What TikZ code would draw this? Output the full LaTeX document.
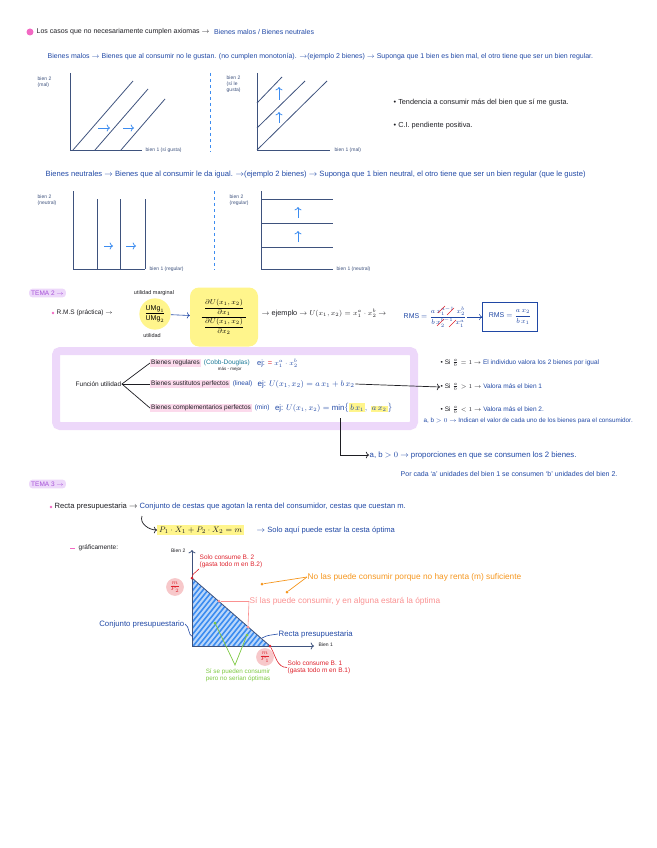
\documentclass[tikz,border=0pt]{standalone}
\usepackage{amsmath, amssymb}
\usepackage{fontspec}
\setmainfont{Liberation Sans}
\usepackage{tikz}
\usetikzlibrary{arrows.meta, calc, positioning}
\usepackage{xcolor}
\definecolor{inkdark}{RGB}{30,30,35}
\definecolor{inkblue}{RGB}{32,72,165}
\definecolor{axisblue}{RGB}{62,82,125}
\definecolor{lightblue}{RGB}{60,140,240}
\definecolor{hlyellow}{RGB}{255,245,140}
\definecolor{hlpink}{RGB}{252,218,236}
\definecolor{hlviolet}{RGB}{237,216,250}
\definecolor{temaviolet}{RGB}{165,80,215}
\definecolor{bulletpink}{RGB}{242,105,195}
\definecolor{notered}{RGB}{222,35,45}
\definecolor{noteorange}{RGB}{245,150,30}
\definecolor{notepink}{RGB}{250,145,145}
\definecolor{notegreen}{RGB}{125,200,65}
\definecolor{cobbteal}{RGB}{25,120,150}
\newcommand{\flecha}{$\rightarrow$}
\setlength{\fboxsep}{1pt}

\begin{document}
\begin{tikzpicture}[x=1pt, y=-1pt,
  note/.style={font=\fontsize{6.5}{7.5}\selectfont, inner sep=0.5pt, anchor=west, text=inkdark},
  bnote/.style={note, text=inkblue},
  axlabel/.style={font=\fontsize{5}{6}\selectfont, inner sep=0.5pt, text=axisblue, align=left},
  axisline/.style={draw=axisblue, line width=0.8pt},
  shiftarrow/.style={->, draw=lightblue, line width=0.8pt},
  divider/.style={draw=lightblue, dashed, line width=0.7pt},
  tema/.style={note, fill=hlviolet, text=temaviolet, rounded corners=3pt, inner sep=2pt},
  pinkhl/.style={note, fill=hlpink, inner sep=1pt},
  branch/.style={draw=inkdark, line width=0.7pt},
  redmark/.style={circle, fill=notered!25, text=notered, inner sep=1pt, font=\fontsize{8}{9}\selectfont},
  dot/.style={circle, inner sep=0pt, minimum size=3pt}]
\useasboundingbox (0,0) rectangle (656,848);

% Tema 1: bienes malos y neutrales
\fill[bulletpink] (30,32) circle (3.5);
\node[note, font=\fontsize{7}{8}\selectfont] (titulo) at (36,32) {Los casos que no necesariamente cumplen axiomas \flecha};
\node[bnote, font=\fontsize{7}{8}\selectfont, right=3pt of titulo] (tipos) {Bienes malos / Bienes neutrales};
\node[bnote, font=\fontsize{7}{8}\selectfont] (malos) at (47,57) {Bienes malos \flecha\ Bienes que al consumir no le gustan. (no cumplen monotonía). \flecha(ejemplo 2 bienes) \flecha\ Suponga que 1 bien es bien mal, el otro tiene que ser un bien regular.};

% bien 2 malo
\draw[axisline] (70,73) -- (70,150) -- (142,150);
\draw[axisline] (73,150) -- (133,81);
\draw[axisline] (95,150) -- (148,89);
\draw[axisline] (121,150) -- (165,99);
\draw[shiftarrow] (98,128) -- (110,128);
\draw[shiftarrow] (123,128) -- (134,128);
\node[axlabel, anchor=north west] (ybien2a) at (37,76) {bien 2\\(mal)};
\node[axlabel, anchor=west] (xbien1a) at (145,150) {bien 1 (sí gusta)};
\draw[divider] (210,73) -- (210,152);

% bien 1 malo
\draw[axisline] (257,73) -- (257,150) -- (330,150);
\draw[axisline] (257,150) -- (327,81);
\draw[axisline] (257,128) -- (305,81);
\draw[axisline] (257,103) -- (282,77);
\draw[shiftarrow] (279,123) -- (279,112);
\draw[shiftarrow] (279,100) -- (279,87);
\node[axlabel, anchor=north west] (ybien2b) at (226,75) {bien 2\\(sí le\\gusta)};
\node[axlabel, anchor=west] (xbien1b) at (334,150) {bien 1 (mal)};

\node[note, font=\fontsize{7.3}{8}\selectfont] (tendencia) at (393,103) {• Tendencia a consumir más del bien que sí me gusta.};
\node[note, font=\fontsize{7.3}{8}\selectfont] (pendiente) at (393,126) {• C.I. pendiente positiva.};

\node[bnote, font=\fontsize{7.6}{8.5}\selectfont] (neutros) at (45,175) {Bienes neutrales \flecha\ Bienes que al consumir le da igual. \flecha(ejemplo 2 bienes) \flecha\ Suponga que 1 bien neutral, el otro tiene que ser un bien regular (que le guste)};

% bien 2 neutral
\draw[axisline] (73,191) -- (73,269) -- (145,269);
\foreach \xv in {97,120,145}
  \draw[axisline] (\xv,269) -- (\xv,199);
\draw[shiftarrow] (104,246) -- (113,246);
\draw[shiftarrow] (126,246) -- (136,246);
\node[axlabel, anchor=north west] (ybien2c) at (37,194) {bien 2\\(neutral)};
\node[axlabel, anchor=west] (xbien1c) at (149,269) {bien 1 (regular)};
\draw[divider] (214,191) -- (214,270);

% bien 1 neutral
\draw[axisline] (261,191) -- (261,269) -- (333,269);
\foreach \yv in {199,223,247}
  \draw[axisline] (261,\yv) -- (333,\yv);
\draw[shiftarrow] (298,218) -- (298,207);
\draw[shiftarrow] (298,242) -- (298,231);
\node[axlabel, anchor=north west] (ybien2d) at (229,194) {bien 2\\(regular)};
\node[axlabel, anchor=west] (xbien1d) at (336,269) {bien 1 (neutral)};

% Tema 2: RMS y funciones de utilidad
\node[tema] (tema2) at (29,293) {TEMA 2 \flecha};
\fill[bulletpink] (53,313) circle (1.3);
\node[note] (rms) at (56,313) {R.M.S (práctica) \flecha};
\node[circle, fill=hlyellow, inner sep=1.5pt, font=\fontsize{7}{8}\selectfont] (umg) at (155,314) {$\dfrac{\mathrm{UMg}_1}{\mathrm{UMg}_2}$};
\node[note, anchor=south, font=\fontsize{5.5}{6.5}\selectfont] (umgtxt) at (154,296) {utilidad marginal};
\node[note, anchor=north, font=\fontsize{5.5}{6.5}\selectfont] (utiltxt) at (152,333) {utilidad};
\node[fill=hlyellow, rounded corners=9pt, minimum width=68pt, minimum height=59pt, inner sep=1pt, font=\fontsize{7.5}{9}\selectfont] (deriv) at (224,317)
  {$\dfrac{\;\dfrac{\partial U(x_1,x_2)}{\partial x_1}\;}{\;\dfrac{\partial U(x_1,x_2)}{\partial x_2}\;}$};
\draw[->, inkblue, line width=0.6pt] (umg) -- (deriv);
\node[note, font=\fontsize{7.3}{8}\selectfont] (ejemplo) at (261,313) {\flecha\ ejemplo \flecha\ $U(x_1,x_2) = x_1^{a}\cdot x_2^{b}$ \flecha};
\node[bnote, font=\fontsize{7}{8}\selectfont] (rmsej) at (403,317) {RMS $=\dfrac{a\,x_1^{a-1}\; x_2^{b}}{b\,x_2^{b-1}\; x_1^{a}}$};
\draw[notered, line width=0.6pt] (438,313) -- (445,306) (447,315) -- (454,308)
  (437,326) -- (444,319) (449,327) -- (456,320);
\node[bnote, anchor=center, draw=inkblue, line width=0.8pt, minimum width=55pt, minimum height=29pt, font=\fontsize{7}{8}\selectfont] (rmsres) at (510,317) {RMS $=\dfrac{a\,x_2}{b\,x_1}$};
\draw[->, inkblue, line width=0.6pt] (rmsej) -- (rmsres);

\draw[hlviolet, line width=8pt, rounded corners=4pt] (56,351) rectangle (414,426);
\node[note] (futil) at (75,384) {Función utilidad};
\node[pinkhl] (regul) at (150,363) {Bienes regulares};
\node[note, text=cobbteal, right=2pt of regul] (cobb) {(Cobb-Douglas)};
\node[note, anchor=north, font=\fontsize{4.5}{5}\selectfont] (masmejor) at ($(cobb.south)+(3,-0.5)$) {más - mejor};
\node[bnote, right=6pt of cobb, font=\fontsize{7.5}{8.5}\selectfont] (ejcobb) {ej: {\color{notered}=} $x_1^{a}\cdot x_2^{b}$};
\node[pinkhl] (sust) at (150,384) {Bienes sustitutos perfectos};
\node[bnote, right=2pt of sust] (lineal) {(lineal)};
\node[bnote, right=4pt of lineal, font=\fontsize{8}{9}\selectfont] (ejsust) {ej: $U(x_1,x_2) = a\,x_1 + b\,x_2$};
\node[pinkhl] (compl) at (150,408) {Bienes complementarios perfectos};
\node[bnote, right=2pt of compl] (minimo) {(min)};
\node[bnote, right=4pt of minimo, font=\fontsize{7.8}{8.5}\selectfont] (ejcompl)
  {ej: $U(x_1,x_2) = \min\bigl\{\colorbox{hlyellow}{$b\,x_1$},\ \colorbox{hlyellow}{$a\,x_2$}\bigr\}$};
\draw[branch] (futil.east) -- (regul.west);
\draw[branch] (futil.east) -- (sust.west);
\draw[branch] (futil.east) -- (compl.west);

\node[note] (si1) at (440,363) {• Si $\frac{a}{b} = 1$ \flecha\ {\color{inkblue}El individuo valora los 2 bienes por igual}};
\node[note] (si2) at (440,387) {• Si $\frac{a}{b} > 1$ \flecha\ {\color{inkblue}Valora más el bien 1}};
\node[note] (si3) at (440,410) {• Si $\frac{a}{b} < 1$ \flecha\ {\color{inkblue}Valora más el bien 2.}};
\node[bnote, font=\fontsize{6.3}{7}\selectfont] (valor) at (423,421) {a, b $>0$ \flecha\ Indican el valor de cada uno de los bienes para el consumidor.};
\draw[->, inkdark, line width=0.7pt] (ejsust.east) -- (si2.west);

\coordinate (codo) at (340,418);
\node[bnote, font=\fontsize{7.8}{8.5}\selectfont] (prop) at (369,455) {a, b $>0$ \flecha\ proporciones en que se consumen los 2 bienes.};
\draw[->, inkdark, line width=0.7pt] (codo) |- (prop.west);
\node[bnote, font=\fontsize{7}{8}\selectfont] (porcada) at (400,474) {Por cada `a' unidades del bien 1 se consumen `b' unidades del bien 2.};

% Tema 3: recta presupuestaria
\node[tema] (tema3) at (29,484) {TEMA 3 \flecha};
\fill[bulletpink] (51,507) circle (1.3);
\node[note, font=\fontsize{7.6}{8.5}\selectfont] (recta) at (54,507) {Recta presupuestaria \flecha\ {\color{inkblue}Conjunto de cestas que agotan la renta del consumidor, cestas que cuestan m.}};
\node[note, fill=hlyellow, inner sep=2pt, font=\fontsize{8.5}{9}\selectfont] (budget) at (157,530) {$P_1\cdot X_1 + P_2\cdot X_2 = m$};
\coordinate (gancho) at (142,516);
\draw[->, inkdark, line width=0.7pt] (gancho) to[out=-110, in=180] (budget.west);
\node[bnote, font=\fontsize{7.6}{8.5}\selectfont] (optima) at (256,530) {\flecha\ Solo aquí puede estar la cesta óptima};
\draw[bulletpink, line width=0.8pt] (70,548) -- (75,548);
\node[note] (grafica) at (78,548) {gráficamente:};

% grafico del conjunto presupuestario
\coordinate (O) at (192,646);
\coordinate (B2) at (192,578);
\coordinate (B1) at (270,646);
\fill[lightblue!35] (B2) -- (O) -- (B1) -- cycle;
\begin{scope}
  \clip (B2) -- (O) -- (B1) -- cycle;
  \foreach \k in {0,5,...,160}
    \draw[lightblue, line width=1.6pt] (120+\k,650) -- ++(60,-75);
\end{scope}
\draw[->, axisline] (O) -- (192,550);
\draw[->, axisline] (O) -- (314,646);
\draw[axisline] (B2) -- (B1);
\node[axlabel, text=inkdark, anchor=east] (ybien) at (186,551) {Bien 2};
\node[axlabel, text=inkdark, anchor=west] (xbien) at (318,645) {Bien 1};
\node[dot, fill=notered] (p2) at (B2) {};
\node[dot, fill=notered] (p1) at (B1) {};
\node[redmark] (mp2) at (175,587) {$\frac{m}{P_2}$};
\node[redmark] (mp1) at (265,657) {$\frac{m}{P_1}$};

\node[note, text=notered, align=left, anchor=north west, font=\fontsize{6.5}{7.5}\selectfont] (solo2) at (199,554) {Solo consume B. 2\\(gasta todo m en B.2)};
\draw[notered, line width=0.6pt] (p2) to[out=80, in=-120] (solo2.south west);
\node[note, text=notered, align=left, anchor=north west, font=\fontsize{6.5}{7.5}\selectfont] (solo1) at (287,660) {Solo consume B. 1\\(gasta todo m en B.1)};
\draw[notered, line width=0.6pt] (p1) to[out=-60, in=180] (solo1.west);

\node[dot, fill=noteorange] (fuera1) at (262,584) {};
\node[dot, fill=noteorange] (fuera2) at (287,592) {};
\node[note, text=noteorange, font=\fontsize{8.3}{9}\selectfont] (nopuede) at (307,577) {No las puede consumir porque no hay renta (m) suficiente};
\draw[noteorange, line width=0.7pt] (nopuede.west) -- (fuera1);
\draw[noteorange, line width=0.7pt] (nopuede.west) -- (fuera2);

\node[dot, fill=notepink] (sobre1) at (219,601) {};
\node[dot, fill=notepink] (sobre2) at (248,627) {};
\node[note, text=notepink, font=\fontsize{8.3}{9}\selectfont] (sipuede) at (249,601) {Sí las puede consumir, y en alguna estará la óptima};
\draw[notepink, line width=0.6pt] (sipuede.west) -- (sobre1);
\draw[notepink, line width=0.6pt] (sipuede.west) -- (sobre2);

\node[bnote, anchor=east, font=\fontsize{7.8}{8.5}\selectfont] (conjunto) at (185,624) {Conjunto presupuestario};
\draw[inkblue, line width=0.6pt] (conjunto.east) to[out=-30, in=160] (193,637);
\node[bnote, font=\fontsize{7.8}{8.5}\selectfont] (rectalbl) at (278,634) {Recta presupuestaria};
\draw[inkblue, line width=0.6pt] (rectalbl.west) to[out=190, in=30] (262,638);

\node[dot, fill=notegreen] (dentro1) at (215,623) {};
\node[dot, fill=notegreen] (dentro2) at (247,635) {};
\coordinate (vgreen) at (235,665);
\draw[notegreen, line width=0.7pt] (dentro1) -- (vgreen) -- (dentro2);
\node[note, text=notegreen, align=left, anchor=north, font=\fontsize{6.3}{7}\selectfont] (nooptima) at (238,668) {Sí se pueden consumir\\pero no serían óptimas};
\end{tikzpicture}
\end{document}
